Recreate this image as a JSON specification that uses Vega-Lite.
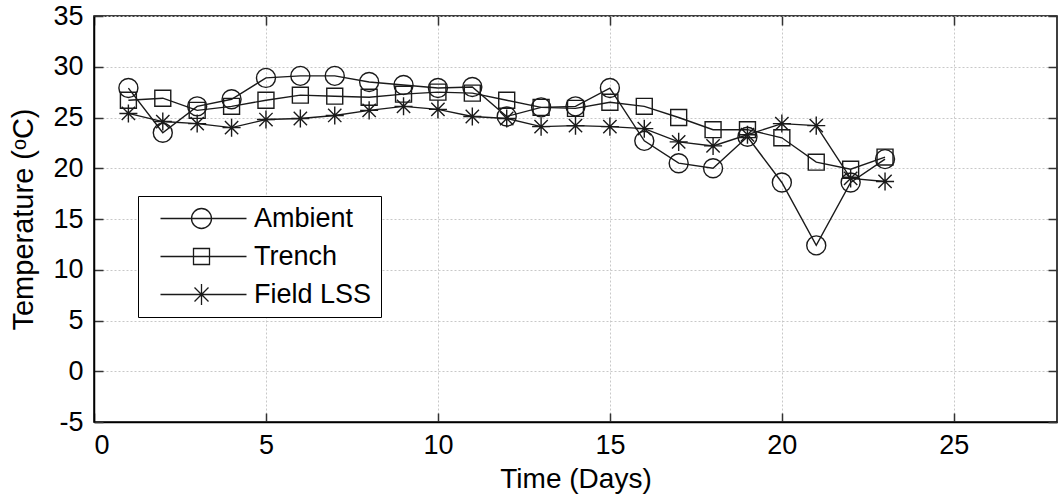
{
  "$schema": "https://vega.github.io/schema/vega-lite/v6.json",
  "width": 963,
  "height": 406,
  "autosize": {"type": "none"},
  "padding": {"left": 94, "top": 16, "right": 1, "bottom": 79},
  "background": "white",
  "config": {
    "font": "Liberation Sans",
    "view": {"stroke": "black", "strokeWidth": 1.5},
    "axis": {
      "labelFont": "Liberation Sans",
      "titleFont": "Liberation Sans",
      "labelFontSize": 27,
      "titleFontSize": 28,
      "labelColor": "black",
      "titleColor": "black",
      "titleFontWeight": "normal",
      "domainColor": "black",
      "domainWidth": 1.5,
      "tickColor": "#333333",
      "tickWidth": 1.5,
      "tickSize": -9,
      "gridColor": "#c8c8c8",
      "gridDash": [2, 2],
      "gridWidth": 1,
      "labelExpr": "'' + datum.value"
    }
  },
  "datasets": {
    "temps": [
      {"day": 1, "series": "Ambient", "temp": 27.9},
      {"day": 2, "series": "Ambient", "temp": 23.5},
      {"day": 3, "series": "Ambient", "temp": 26.1},
      {"day": 4, "series": "Ambient", "temp": 26.8},
      {"day": 5, "series": "Ambient", "temp": 28.9},
      {"day": 6, "series": "Ambient", "temp": 29.1},
      {"day": 7, "series": "Ambient", "temp": 29.1},
      {"day": 8, "series": "Ambient", "temp": 28.5},
      {"day": 9, "series": "Ambient", "temp": 28.2},
      {"day": 10, "series": "Ambient", "temp": 27.9},
      {"day": 11, "series": "Ambient", "temp": 28.0},
      {"day": 12, "series": "Ambient", "temp": 25.1},
      {"day": 13, "series": "Ambient", "temp": 26.0},
      {"day": 14, "series": "Ambient", "temp": 26.1},
      {"day": 15, "series": "Ambient", "temp": 27.9},
      {"day": 16, "series": "Ambient", "temp": 22.7},
      {"day": 17, "series": "Ambient", "temp": 20.5},
      {"day": 18, "series": "Ambient", "temp": 20.0},
      {"day": 19, "series": "Ambient", "temp": 23.1},
      {"day": 20, "series": "Ambient", "temp": 18.6},
      {"day": 21, "series": "Ambient", "temp": 12.4},
      {"day": 22, "series": "Ambient", "temp": 18.6},
      {"day": 23, "series": "Ambient", "temp": 20.9},
      {"day": 1, "series": "Trench", "temp": 26.7},
      {"day": 2, "series": "Trench", "temp": 26.9},
      {"day": 3, "series": "Trench", "temp": 25.7},
      {"day": 4, "series": "Trench", "temp": 26.1},
      {"day": 5, "series": "Trench", "temp": 26.7},
      {"day": 6, "series": "Trench", "temp": 27.2},
      {"day": 7, "series": "Trench", "temp": 27.1},
      {"day": 8, "series": "Trench", "temp": 27.0},
      {"day": 9, "series": "Trench", "temp": 27.3},
      {"day": 10, "series": "Trench", "temp": 27.5},
      {"day": 11, "series": "Trench", "temp": 27.4},
      {"day": 12, "series": "Trench", "temp": 26.7},
      {"day": 13, "series": "Trench", "temp": 26.0},
      {"day": 14, "series": "Trench", "temp": 25.9},
      {"day": 15, "series": "Trench", "temp": 26.5},
      {"day": 16, "series": "Trench", "temp": 26.1},
      {"day": 17, "series": "Trench", "temp": 25.0},
      {"day": 18, "series": "Trench", "temp": 23.8},
      {"day": 19, "series": "Trench", "temp": 23.8},
      {"day": 20, "series": "Trench", "temp": 23.0},
      {"day": 21, "series": "Trench", "temp": 20.6},
      {"day": 22, "series": "Trench", "temp": 19.9},
      {"day": 23, "series": "Trench", "temp": 21.1},
      {"day": 1, "series": "Field LSS", "temp": 25.4},
      {"day": 2, "series": "Field LSS", "temp": 24.6},
      {"day": 3, "series": "Field LSS", "temp": 24.4},
      {"day": 4, "series": "Field LSS", "temp": 24.0},
      {"day": 5, "series": "Field LSS", "temp": 24.8},
      {"day": 6, "series": "Field LSS", "temp": 24.9},
      {"day": 7, "series": "Field LSS", "temp": 25.2},
      {"day": 8, "series": "Field LSS", "temp": 25.7},
      {"day": 9, "series": "Field LSS", "temp": 26.1},
      {"day": 10, "series": "Field LSS", "temp": 25.8},
      {"day": 11, "series": "Field LSS", "temp": 25.1},
      {"day": 12, "series": "Field LSS", "temp": 24.9},
      {"day": 13, "series": "Field LSS", "temp": 24.1},
      {"day": 14, "series": "Field LSS", "temp": 24.2},
      {"day": 15, "series": "Field LSS", "temp": 24.1},
      {"day": 16, "series": "Field LSS", "temp": 23.9},
      {"day": 17, "series": "Field LSS", "temp": 22.6},
      {"day": 18, "series": "Field LSS", "temp": 22.2},
      {"day": 19, "series": "Field LSS", "temp": 23.3},
      {"day": 20, "series": "Field LSS", "temp": 24.4},
      {"day": 21, "series": "Field LSS", "temp": 24.2},
      {"day": 22, "series": "Field LSS", "temp": 19.0},
      {"day": 23, "series": "Field LSS", "temp": 18.7}
    ]
  },
  "data": {"name": "temps"},
  "layer": [
    {
      "mark": {"type": "line", "color": "#1a1a1a", "strokeWidth": 1.4},
      "encoding": {
        "x": {
          "field": "day", "type": "quantitative",
          "scale": {"domain": [0, 28], "nice": false, "zero": false},
          "axis": {"orient": "bottom", "values": [0, 5, 10, 15, 20, 25], "title": "Time (Days)", "labelPadding": 19, "titlePadding": 7, "grid": true}
        },
        "y": {
          "field": "temp", "type": "quantitative",
          "scale": {"domain": [-5, 35], "nice": false, "zero": false},
          "axis": {"orient": "left", "values": [-5, 0, 5, 10, 15, 20, 25, 30, 35], "title": "Temperature (ᵒC)", "titleFontSize": 29, "labelPadding": 20, "titlePadding": 14, "grid": true}
        },
        "detail": {"field": "series", "type": "nominal"}
      }
    },
    {
      "mark": {"type": "point", "filled": false, "color": "#1a1a1a", "strokeWidth": 1.4, "size": 361, "opacity": 1},
      "encoding": {
        "x": {"field": "day", "type": "quantitative", "axis": null},
        "y": {"field": "temp", "type": "quantitative", "axis": null},
        "shape": {
          "field": "series", "type": "nominal",
          "scale": {
            "domain": ["Ambient", "Trench", "Field LSS"],
            "range": [
              "M1,0A1,1,0,1,1,-1,0A1,1,0,1,1,1,0Z",
              "M-0.84,-0.84L0.84,-0.84L0.84,0.84L-0.84,0.84Z",
              "M0,-0.95L0,0.95M-0.95,0L0.95,0M-0.7,-0.7L0.7,0.7M-0.7,0.7L0.7,-0.7"
            ]
          },
          "legend": null
        }
      }
    },
    {
      "transform": [{"filter": "datum.day > 100"}],
      "mark": {"type": "point", "filled": false, "color": "#1a1a1a", "strokeWidth": 1.3, "size": 400, "opacity": 1},
      "encoding": {
        "x": {"field": "day", "type": "quantitative", "axis": {"orient": "top", "values": [0, 5, 10, 15, 20, 25], "labels": false, "title": null, "grid": false, "domain": false}},
        "y": {"field": "temp", "type": "quantitative", "axis": {"orient": "right", "values": [-5, 0, 5, 10, 15, 20, 25, 30, 35], "labels": false, "title": null, "grid": false, "domain": false}},
        "shape": {
          "field": "series", "type": "nominal",
          "scale": {
            "domain": ["Ambient", "Trench", "Field LSS"],
            "range": [
              "M0,0L8.6,0M5.1,0A1,1,0,1,1,3.1,0A1,1,0,1,1,5.1,0",
              "M0,0L8.6,0M3.3,-0.8L4.9,-0.8L4.9,0.8L3.3,0.8Z",
              "M0,0L8.6,0M4.1,-1.05L4.1,1.05M3.4,-0.7L4.8,0.7M3.4,0.7L4.8,-0.7"
            ]
          },
          "legend": {
            "orient": "none", "legendX": 44, "legendY": 180,
            "title": null,
            "strokeColor": "black", "fillColor": "white", "cornerRadius": 0,
            "padding": 9,
            "labelFont": "Liberation Sans", "labelFontSize": 27, "labelColor": "black",
            "symbolSize": 400, "symbolStrokeColor": "#1a1a1a", "symbolStrokeWidth": 1.3,
            "symbolFillColor": "transparent", "symbolOpacity": 1,
            "labelOffset": 80, "rowPadding": 10
          }
        }
      }
    }
  ],
  "resolve": {"scale": {"shape": "independent"}, "axis": {"x": "independent", "y": "independent"}, "legend": {"shape": "independent"}}
}
